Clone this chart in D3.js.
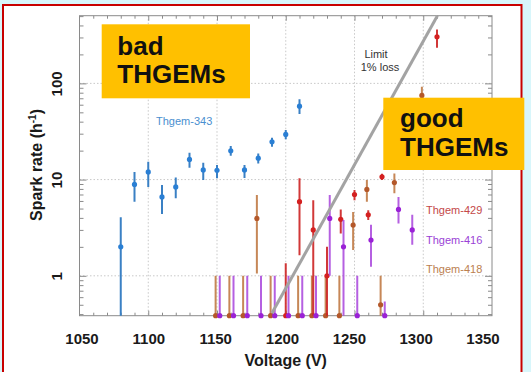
<!DOCTYPE html>
<html><head><meta charset="utf-8">
<script src="https://cdn.jsdelivr.net/npm/d3@7"></script>
<style>
html,body{margin:0;padding:0;background:#d8f6fb;}
svg{display:block;font-family:"Liberation Sans",Arial,sans-serif;}
</style></head><body>
<svg id="c" width="531" height="372"></svg>
<script>
// ---- data ----
const xTicks = [1050, 1100, 1150, 1200, 1250, 1300, 1350];
const yTicks = [1, 10, 100];

// Thgem-343 (blue)
const v343 = [1080, 1090, 1100, 1110, 1120, 1130, 1140, 1150, 1160, 1170, 1180, 1190, 1200, 1210];
const r343 = [2.0, 8.9, 12.0, 6.6, 8.4, 16.2, 12.6, 12.5, 19.9, 12.6, 16.7, 24.7, 29.5, 58];
const lo343 = [0.1, 5.9, 8.4, 4.4, 6.4, 13.3, 9.9, 10.3, 17.7, 10.4, 14.7, 21.9, 26.2, 48];
const hi343 = [4.05, 12.0, 15.3, 8.8, 10.5, 19, 15, 14.2, 22.3, 14.2, 18.7, 27.2, 32.7, 68.2];

// Thgem-418 (brown), 0 = no spark
const v418 = [1149, 1159, 1169, 1179, 1189, 1209, 1219, 1229, 1239, 1249, 1259, 1269, 1279, 1299];
const r418 = [0, 0, 0, 3.95, 0, 0, 0, 0, 0, 3.37, 7.9, 0.5, 9.3, 75];
const lo418 = [0, 0, 0, 1.06, 0, 0, 0, 0, 0, 1.85, 5.9, 0.3, 7.2, 55];
const hi418 = [1, 1, 1, 6.9, 1, 1, 1, 1, 1, 4.6, 9.9, 1.0, 11.6, 92];

// Thgem-429 (red)
const v429 = [1200, 1210, 1220, 1230, 1240, 1250, 1260, 1270, 1310];
const r429 = [0, 5.9, 3.0, 1.0, 3.86, 7.0, 4.3, 10.7, 305];
const lo429 = [0, 1.64, 0.3, 0.3, 2.76, 6.1, 3.8, 9.9, 234];
const hi429 = [1.35, 10.3, 6.1, 2.0, 4.9, 7.8, 4.8, 11.5, 364];

// Thgem-416 (purple)
const v416 = [1152, 1162, 1172, 1182, 1192, 1202, 1212, 1222, 1232, 1242, 1252, 1262, 1272, 1282, 1292];
const r416 = [0, 0, 0, 0, 0, 0, 0, 0, 3.95, 2.0, 0, 2.35, 0, 4.9, 3.0];
const lo416 = [0, 0, 0, 0, 0, 0, 0, 0, 1.0, 0.3, 0, 1.24, 0, 3.5, 2.1];
const hi416 = [1, 1, 1, 1, 1, 1, 1, 1, 6.9, 3.8, 1, 3.4, 0.54, 6.6, 4.3];

// Limit 1% loss line
const limitV = [1190, 1310.3];
const limitR = [0.41, 505];

// ---- chart ----
const W = 531, H = 372;
const svg = d3.select("#c");
svg.append("rect").attr("width", W).attr("height", H).attr("fill", "#d8f6fb");
svg.append("rect").attr("x", 3).attr("y", 5).attr("width", 518.5).attr("height", H)
  .attr("fill", "#fff").attr("stroke", "#c80000").attr("stroke-width", 2);

const x = d3.scaleLinear().domain([1050, 1350]).range([79.5, 492]);
const xLab = d3.scaleLinear().domain([1050, 1350]).range([81.5, 482.5]);
const y = d3.scaleLog().domain([0.385, 505]).range([315.7, 15.7]);
const [x0, x1] = x.range();
const [yB, yT] = y.range();

svg.append("defs").append("clipPath").attr("id", "clip")
  .append("rect").attr("x", x0).attr("y", yT).attr("width", x1 - x0).attr("height", yB - yT);

// gridlines
const grid = svg.append("g").attr("stroke", "#c8c8c8").attr("stroke-dasharray", "1.5,2").attr("stroke-width", 1);
grid.selectAll(".gx").data(xTicks.slice(1, -1)).join("line")
  .attr("x1", d => x(d)).attr("x2", d => x(d)).attr("y1", yT).attr("y2", yB);
grid.selectAll(".gy").data(yTicks).join("line")
  .attr("x1", x0).attr("x2", x1).attr("y1", d => y(d)).attr("y2", d => y(d));

// ticks
const minorX = d3.range(1060, 1350, 10).filter(d => d % 50 !== 0);
const majorX = xTicks.slice(1, -1);
function styleAxis(g) { g.select(".domain").remove(); g.selectAll("line").attr("stroke", "#8a8a8a"); }
svg.append("g").attr("transform", `translate(0,${yB})`).call(d3.axisBottom(x).tickValues(minorX).tickSize(-3).tickFormat("")).call(styleAxis);
svg.append("g").attr("transform", `translate(0,${yB})`).call(d3.axisBottom(x).tickValues(majorX).tickSize(-5).tickFormat("")).call(styleAxis);
svg.append("g").attr("transform", `translate(0,${yT})`).call(d3.axisTop(x).tickValues(minorX).tickSize(-3).tickFormat("")).call(styleAxis);
svg.append("g").attr("transform", `translate(0,${yT})`).call(d3.axisTop(x).tickValues(majorX).tickSize(-5).tickFormat("")).call(styleAxis);

const minorY = [];
[0.1, 1, 10, 100].forEach(b => { for (let k = 2; k <= 9; k++) { const v = b * k; if (v > 0.385 && v < 505) minorY.push(v); } });
svg.append("g").attr("transform", `translate(${x0},0)`).call(d3.axisLeft(y).tickValues(minorY).tickSize(-4).tickFormat("")).call(styleAxis);
svg.append("g").attr("transform", `translate(${x0},0)`).call(d3.axisLeft(y).tickValues(yTicks).tickSize(-7).tickFormat("")).call(styleAxis);
svg.append("g").attr("transform", `translate(${x1},0)`).call(d3.axisRight(y).tickValues(minorY).tickSize(-4).tickFormat("")).call(styleAxis);
svg.append("g").attr("transform", `translate(${x1},0)`).call(d3.axisRight(y).tickValues(yTicks).tickSize(-7).tickFormat("")).call(styleAxis);

// tick labels
const xl = svg.append("g").call(d3.axisBottom(xLab).tickValues(xTicks).tickSize(0).tickFormat(d3.format("d")));
xl.select(".domain").remove();
xl.selectAll("text").attr("y", 344).attr("dy", 0).attr("font-size", 15).attr("font-weight", "bold")
  .attr("fill", "#1a1a1a").attr("font-family", "Liberation Sans, Arial, sans-serif");

const yl = svg.append("g").attr("transform", `translate(${x0},0)`).call(d3.axisLeft(y).tickValues(yTicks).tickSize(0).tickFormat(d3.format("d")));
yl.select(".domain").remove();
yl.selectAll("text").attr("x", 0).attr("dy", 0).attr("text-anchor", "middle")
  .attr("transform", `translate(${62 - x0},0) rotate(-90)`)
  .attr("font-size", 15).attr("font-weight", "bold").attr("fill", "#1a1a1a")
  .attr("font-family", "Liberation Sans, Arial, sans-serif");

// frame
svg.append("rect").attr("x", x0).attr("y", yT).attr("width", x1 - x0).attr("height", yB - yT)
  .attr("fill", "none").attr("stroke", "#8a8a8a").attr("stroke-width", 1);

// axis titles
svg.append("text").attr("x", 285.7).attr("y", 366).attr("text-anchor", "middle")
  .attr("font-size", 16).attr("font-weight", "bold").attr("fill", "#1a1a1a").text("Voltage (V)");
const yt = svg.append("text").attr("transform", "translate(41.5,165) rotate(-90)").attr("text-anchor", "middle")
  .attr("font-size", 16).attr("font-weight", "bold").attr("fill", "#1a1a1a");
yt.append("tspan").text("Spark rate (h");
yt.append("tspan").attr("dy", -6).attr("font-size", 10).text("-1");
yt.append("tspan").attr("dy", 6).text(")");

// series
function ypos(v) { return v > 0 ? y(v) : yB; }
function drawSeries(vs, rs, los, his, dotColor, barColor, barOpacity) {
  const data = vs.map((v, i) => ({ v, r: rs[i], lo: los[i], hi: his[i] }));
  const g = svg.append("g");
  g.append("g").attr("clip-path", "url(#clip)").selectAll("line").data(data).join("line")
    .attr("x1", d => x(d.v)).attr("x2", d => x(d.v))
    .attr("y1", d => y(d.hi)).attr("y2", d => d.lo > 0 ? y(d.lo) : yB + 2)
    .attr("stroke", barColor).attr("stroke-width", 2).attr("stroke-opacity", barOpacity);
  g.selectAll("circle").data(data).join("circle")
    .attr("cx", d => x(d.v)).attr("cy", d => ypos(d.r)).attr("r", 2.6).attr("fill", dotColor);
}
drawSeries(v418, r418, lo418, hi418, "#b4582a", "#c07a45", 0.9);
drawSeries(v429, r429, lo429, hi429, "#d42020", "#cc2222", 0.9);
drawSeries(v416, r416, lo416, hi416, "#9a22d6", "#a844dc", 0.85);
drawSeries(v343, r343, lo343, hi343, "#2a7fd4", "#3a80c4", 1);

// limit line
svg.append("path").datum(limitV.map((v, i) => [v, limitR[i]]))
  .attr("d", d3.line().x(d => x(d[0])).y(d => y(d[1])))
  .attr("stroke", "#a3a3a3").attr("stroke-width", 3).attr("fill", "none");

svg.append("text").attr("x", 376).attr("y", 58).attr("text-anchor", "middle").attr("font-size", 11).attr("fill", "#333").text("Limit");
svg.append("text").attr("x", 380).attr("y", 70.7).attr("text-anchor", "middle").attr("font-size", 11).attr("fill", "#333").text("1% loss");

// series labels
const labels = [
  { t: "Thgem-343", x: 156, y: 125, c: "#4a8fd0" },
  { t: "Thgem-429", x: 426, y: 214.3, c: "#c44848" },
  { t: "Thgem-416", x: 426, y: 244, c: "#9a3fd6" },
  { t: "Thgem-418", x: 426, y: 273.3, c: "#bb8050" }
];
svg.selectAll(".lab").data(labels).join("text").attr("class", "lab")
  .attr("x", d => d.x).attr("y", d => d.y).attr("font-size", 11).attr("fill", d => d.c).text(d => d.t);

// boxes
svg.append("rect").attr("x", 101.7).attr("y", 24.3).attr("width", 148.3).attr("height", 74).attr("fill", "#ffc000");
svg.append("text").attr("x", 117.3).attr("y", 55).attr("font-size", 26).attr("font-weight", "bold").attr("fill", "#111").text("bad");
svg.append("text").attr("x", 117.3).attr("y", 83.3).attr("font-size", 26).attr("font-weight", "bold").attr("fill", "#111").text("THGEMs");
svg.append("rect").attr("x", 383.3).attr("y", 97.7).attr("width", 141).attr("height", 72.3).attr("fill", "#ffc000");
svg.append("text").attr("x", 400).attr("y", 127.3).attr("font-size", 26).attr("font-weight", "bold").attr("fill", "#111").text("good");
svg.append("text").attr("x", 400).attr("y", 155.6).attr("font-size", 26).attr("font-weight", "bold").attr("fill", "#111").text("THGEMs");
</script>
</body></html>
